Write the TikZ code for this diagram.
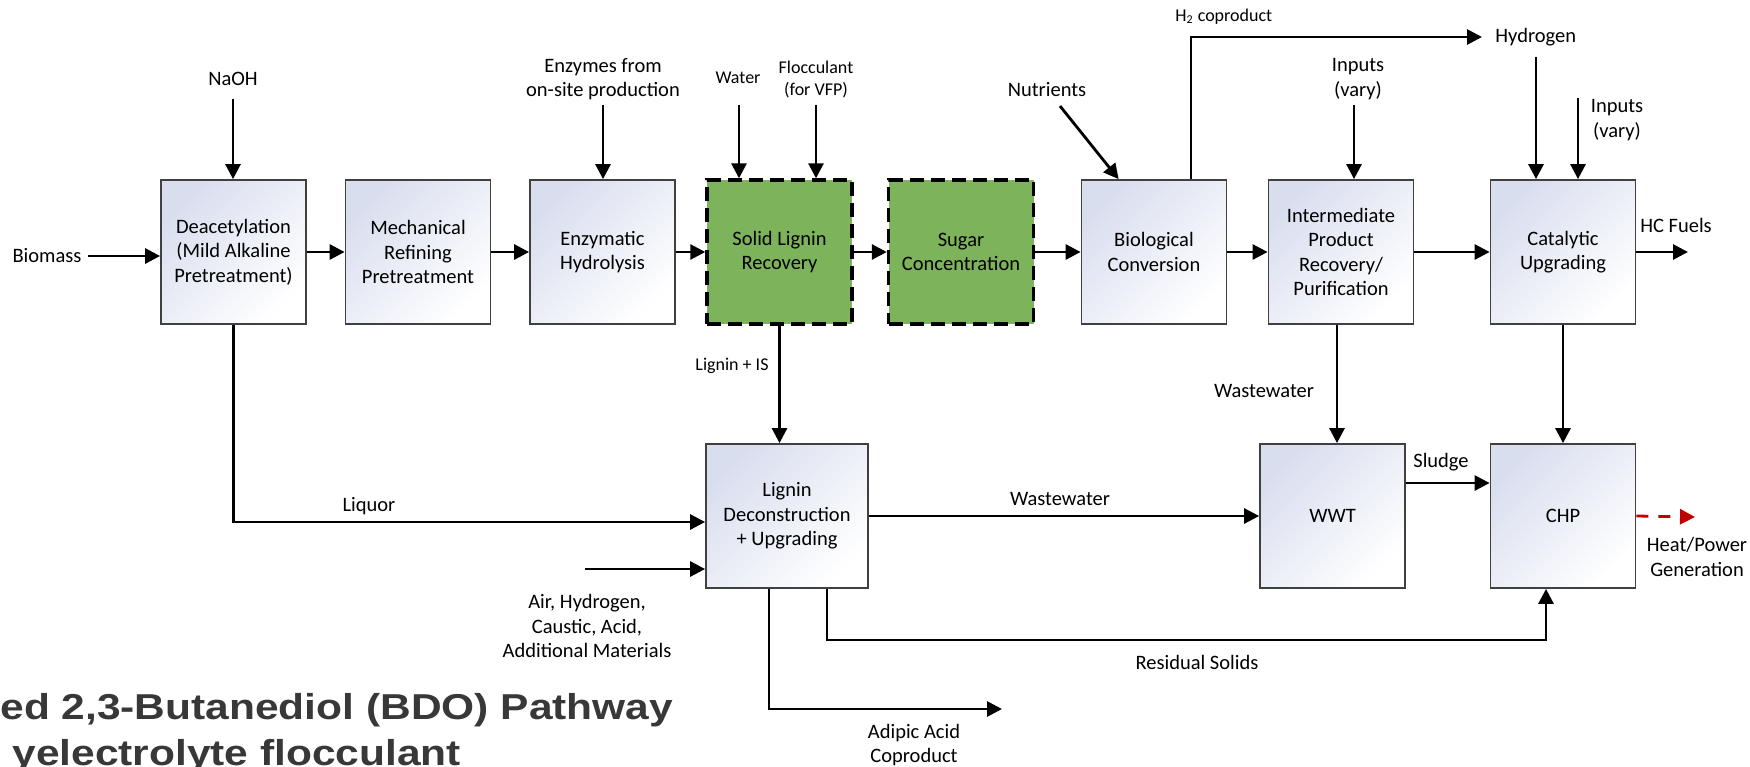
\documentclass[tikz,border=0pt]{standalone}
\usepackage{graphicx}
\usepackage{fontspec}
\setmainfont{Carlito}
\newfontfamily\ttlfont{Liberation Sans}
\usetikzlibrary{arrows.meta}
\definecolor{boxblue}{HTML}{D9DEEF}
\definecolor{lgreen}{HTML}{7DB35A}
\definecolor{ttlgray}{HTML}{383838}
\definecolor{hred}{HTML}{C00000}
\newcommand{\msz}{\fontsize{10.25pt}{12.25pt}\selectfont}
\newcommand{\ssz}{\fontsize{9pt}{11pt}\selectfont}
\begin{document}
\begin{tikzpicture}[x=0.5pt,y=-0.5pt,
  box/.style={draw=black!75, line width=0.9pt, minimum width=72.5pt, minimum height=72pt, inner sep=0pt, align=center, font=\msz, top color=boxblue, bottom color=white, shading angle=45},
  gbox/.style={draw=black, line width=1.7pt, dash pattern=on 7pt off 3.5pt, fill=lgreen, minimum width=72.5pt, minimum height=72pt, inner sep=0pt, align=center, font=\msz},
  arr/.style={line width=1.4pt, -{Triangle[length=7.5pt,width=7.5pt]}},
  rarr/.style={line width=1.4pt, draw=hred, dash pattern=on 6pt off 5pt, -{Triangle[length=7.5pt,width=7.5pt]}},
  lbl/.style={font=\msz, align=center, inner sep=0pt},
  slbl/.style={font=\ssz, align=center, inner sep=0pt},
  ttl/.style={anchor=base west, inner sep=0pt, text=ttlgray, font=\ttlfont\bfseries\fontsize{18pt}{20pt}\selectfont},
]
\useasboundingbox (0,0) rectangle (1750,766);

% process boxes
\node[box] (deac) at (233.5,252) {Deacetylation\\(Mild Alkaline\\Pretreatment)};
\node[box] (mech) at (418,252) {Mechanical\\Refining\\Pretreatment};
\node[box] (enz) at (602.5,252) {Enzymatic\\Hydrolysis};
\node[gbox] (slr) at (779.5,252) {Solid Lignin\\Recovery};
\node[gbox] (sugar) at (961,252) {Sugar\\Concentration};
\node[box] (bio) at (1154,252) {Biological\\Conversion};
\node[box] (ipr) at (1341,252) {Intermediate\\Product\\Recovery/\\Purification};
\node[box] (cat) at (1563,252) {Catalytic\\Upgrading};
\node[box, minimum width=81pt] (lig) at (787,516) {Lignin\\Deconstruction\\+ Upgrading};
\node[box] (wwt) at (1332.5,516) {WWT};
\node[box] (chp) at (1563,516) {CHP};

% labels
\node[lbl] (biomass) at (47,256) {Biomass};
\node[lbl] (naoh) at (233,79) {NaOH};
\node[lbl] (enzin) at (603,79) {Enzymes from\\on-site production};
\node[slbl] (water) at (738,78) {Water};
\node[slbl] (floc) at (816,79) {Flocculant\\(for VFP)};
\node[lbl] (nutr) at (1047,90) {Nutrients};
\node[slbl, anchor=west] (h2co) at (1175,17) {H\textsubscript{2} coproduct};
\node[lbl, anchor=west] (hyd) at (1495,37) {Hydrogen};
\node[lbl] (inp1) at (1358,79) {Inputs\\(vary)};
\node[lbl] (inp2) at (1617,120) {Inputs\\(vary)};
\node[lbl] (hcf) at (1676,225) {HC Fuels};
\node[lbl] (ww1) at (1264,391) {Wastewater};
\node[slbl] (ligis) at (732,366) {Lignin + IS};
\node[lbl] (liquor) at (369,506) {Liquor};
\node[lbl] (air) at (587,626) {Air, Hydrogen,\\Caustic, Acid,\\Additional Materials};
\node[lbl] (ww2) at (1060,499) {Wastewater};
\node[lbl] (sludge) at (1441,462) {Sludge};
\node[lbl] (heat) at (1697,557) {Heat/Power\\Generation};
\node[lbl] (resid) at (1197,662) {Residual Solids};
\node[lbl] (adip) at (914,745) {Adipic Acid\\Coproduct};

% free ends
\coordinate (biomassS) at (88,256);
\coordinate (naohS) at (233,99);
\coordinate (enzS) at (603,105);
\coordinate (watS) at (739,105);
\coordinate (flocS) at (816,105);
\coordinate (nutS) at (1060,106);
\coordinate (hydE) at (1482,37);
\coordinate (inp1S) at (1354,105);
\coordinate (hydS) at (1536,57);
\coordinate (inp2S) at (1578,98);
\coordinate (hcE) at (1688,252);
\coordinate (airS) at (585,569);
\coordinate (heatE) at (1695,517);
\coordinate (resK) at (1546,640);
\coordinate (adE) at (1002,709);

% main line
\draw[arr] (biomassS) -- (biomassS -| deac.west);
\draw[arr] (deac) -- (mech);
\draw[arr] (mech) -- (enz);
\draw[arr] (enz) -- (slr);
\draw[arr] (slr) -- (sugar);
\draw[arr] (sugar) -- (bio);
\draw[arr] (bio) -- (ipr);
\draw[arr] (ipr) -- (cat);
\draw[arr] (cat.east) -- (hcE);

% inputs from above
\draw[arr] (naohS) -- (naohS |- deac.north);
\draw[arr] (enzS) -- (enzS |- enz.north);
\draw[arr] (watS) -- (watS |- slr.north);
\draw[arr] (flocS) -- (flocS |- slr.north);
\draw[arr] (nutS) -- ([xshift=19pt]bio.north west);
\draw[arr] ([xshift=18.5pt]bio.north) |- (hydE);
\draw[arr] (inp1S) -- (inp1S |- ipr.north);
\draw[arr] (hydS) -- (hydS |- cat.north);
\draw[arr] (inp2S) -- (inp2S |- cat.north);

% lower section
\draw[arr] ([xshift=-2pt]ipr.south) -- ([xshift=-2pt]ipr.south |- wwt.north);
\draw[arr] (cat.south) -- (chp.north);
\draw[arr] (slr.south) -- (slr.south |- lig.north);
\draw[arr] (deac.south) |- ([yshift=-3pt]lig.west);
\draw[arr] (airS) -- (airS -| lig.west);
\draw[arr] (lig.east) -- (lig.east -| wwt.west);
\draw[arr] ([yshift=16.5pt]wwt.east) -- ([yshift=16.5pt]wwt.east -| chp.west);
\draw[rarr] (chp.east) -- (heatE);
\draw[arr] ([xshift=20pt]lig.south) |- (resK) -- ([xshift=-8.5pt]chp.south);
\draw[arr] ([xshift=-9pt]lig.south) |- (adE);

% cut-off title
\begin{scope}
\clip (0,0) rectangle (1750,766);
\node[ttl] (t1) at (0,719) {\scalebox{1.18}[1]{ed 2,3-Butanediol (BDO) Pathway}};
\node[ttl] (t2) at (12,765) {\scalebox{1.18}[1]{yelectrolyte flocculant}};
\end{scope}
\end{tikzpicture}
\end{document}
